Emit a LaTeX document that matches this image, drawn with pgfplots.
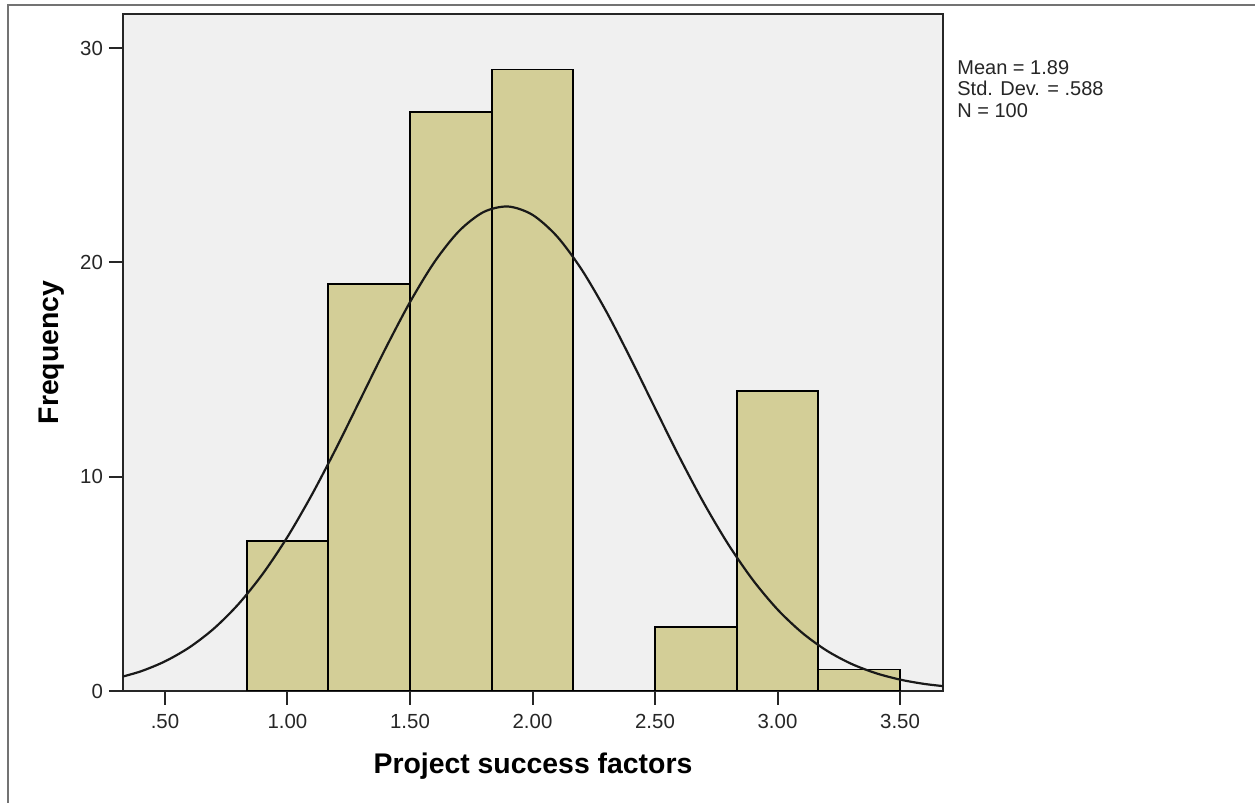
\documentclass[border=0pt]{standalone}
\usepackage{fontspec}
\setmainfont{Liberation Sans}
\usepackage{pgfplots}
\pgfplotsset{compat=1.18}
\definecolor{plotbg}{HTML}{F0F0F0}
\definecolor{barcol}{HTML}{D3CE97}
\begin{document}
\begin{tikzpicture}
\useasboundingbox (0,0) rectangle (627.5pt,401.5pt);
\fill[white] (0,0) rectangle (627.5pt,401.5pt);
\draw[black!55, line width=1pt] (4pt,0) -- (4pt,399pt) -- (627.5pt,399pt);
\begin{axis}[
  at={(61.5pt,56pt)}, anchor=south west,
  scale only axis, width=410pt, height=338.5pt,
  xmin=0.3286, xmax=3.6755, ymin=0, ymax=31.59,
  axis background/.style={fill=plotbg},
  axis line style={black!85, line width=1pt},
  tick align=outside, xtick pos=bottom, ytick pos=left,
  major tick length=7pt,
  tick style={black!85, line width=1pt},
  xtick={0.5,1,1.5,2,2.5,3,3.5},
  xticklabels={.50,1.00,1.50,2.00,2.50,3.00,3.50},
  ytick={0,10,20,30},
  yticklabels={0,10,20,30},
  ticklabel style={font=\fontsize{10.2}{12}\selectfont, text=black!85},
  xticklabel style={yshift=-1pt},
  yticklabel style={xshift=0.5pt},
  xlabel={Project success factors},
  ylabel={Frequency},
  xlabel style={at={(axis description cs:0.5,-0.1108)}, anchor=center, font=\fontsize{14.2}{16}\selectfont\bfseries},
  ylabel style={at={(axis description cs:-0.0866,0.5)}, anchor=center, rotate=0, font=\fontsize{14.2}{16}\selectfont\bfseries},
  clip=true,
]
\addplot[ybar interval, fill=barcol, draw=black, line width=0.9pt] coordinates {
  (0.83333,7) (1.16667,19) (1.5,27) (1.83333,29) (2.16667,0)
  (2.5,3) (2.83333,14) (3.16667,1) (3.5,1)
};
\addplot[smooth, black!90, line width=1.1pt] coordinates {
  (0.3,0.590) (0.4,0.912) (0.5,1.383) (0.6,2.038) (0.7,2.917) (0.8,4.056)
  (0.9,5.481) (1.0,7.192) (1.1,9.170) (1.2,11.357) (1.3,13.668) (1.4,15.979)
  (1.5,18.145) (1.6,20.021) (1.7,21.459) (1.8,22.347) (1.9,22.607) (2.0,22.218)
  (2.1,21.213) (2.2,19.676) (2.3,17.731) (2.4,15.522) (2.5,13.202) (2.6,10.907)
  (2.7,8.755) (2.8,6.826) (2.9,5.171) (3.0,3.805) (3.1,2.722) (3.2,1.890)
  (3.3,1.275) (3.4,0.837) (3.5,0.532) (3.6,0.329) (3.7,0.198)
};
\end{axis}
\begin{scope}[every node/.style={anchor=base west, inner sep=0pt, font=\fontsize{10}{12}\selectfont, text=black!85}]
\node at (478.5pt,364.25pt) {Mean = 1.89};
\node at (478.5pt,353.5pt) {Std. Dev. = .588};
\node at (478.5pt,342.75pt) {N = 100};
\end{scope}
\end{tikzpicture}
\end{document}
